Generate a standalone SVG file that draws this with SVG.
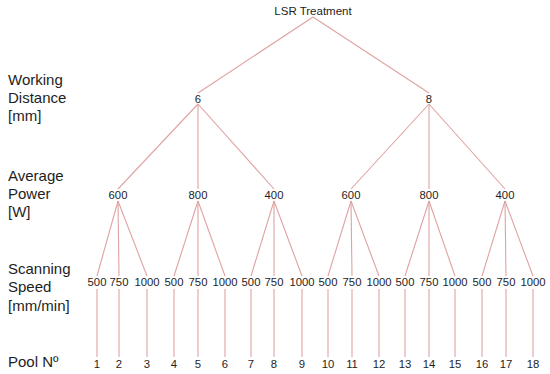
<svg xmlns="http://www.w3.org/2000/svg" width="550" height="374" viewBox="0 0 550 374">
<style>
.bg{fill:#ffffff}
.c line{stroke:#e0a2a2;stroke-width:1.1;fill:none}
text{font-family:"Liberation Sans",Arial,sans-serif;fill:#1e1e1e}
.n{font-size:11.3px;text-anchor:middle;dominant-baseline:central}
.r{font-size:11.5px}
.lab{font-size:15px}
</style>
<rect class="bg" x="0" y="0" width="550" height="374"/>
<g id="connectors" class="c">
<line x1="313" y1="17" x2="198" y2="93"/>
<line x1="313" y1="17" x2="429" y2="93"/>
<line x1="198" y1="104" x2="118" y2="189"/>
<line x1="198" y1="104" x2="198" y2="189"/>
<line x1="198" y1="104" x2="274" y2="189"/>
<line x1="429" y1="104" x2="351" y2="189"/>
<line x1="429" y1="104" x2="429" y2="189"/>
<line x1="429" y1="104" x2="505" y2="189"/>
<line x1="118" y1="201" x2="97" y2="276"/>
<line x1="118" y1="201" x2="119" y2="276"/>
<line x1="118" y1="201" x2="147" y2="276"/>
<line x1="198" y1="201" x2="174" y2="276"/>
<line x1="198" y1="201" x2="198" y2="276"/>
<line x1="198" y1="201" x2="225" y2="276"/>
<line x1="274" y1="201" x2="251" y2="276"/>
<line x1="274" y1="201" x2="274" y2="276"/>
<line x1="274" y1="201" x2="302" y2="276"/>
<line x1="351" y1="201" x2="328" y2="276"/>
<line x1="351" y1="201" x2="352" y2="276"/>
<line x1="351" y1="201" x2="379" y2="276"/>
<line x1="429" y1="201" x2="405" y2="276"/>
<line x1="429" y1="201" x2="429" y2="276"/>
<line x1="429" y1="201" x2="455" y2="276"/>
<line x1="505" y1="201" x2="482" y2="276"/>
<line x1="505" y1="201" x2="506" y2="276"/>
<line x1="505" y1="201" x2="533" y2="276"/>
<line x1="97" y1="289" x2="97" y2="357"/>
<line x1="119" y1="289" x2="119" y2="357"/>
<line x1="147" y1="289" x2="147" y2="357"/>
<line x1="174" y1="289" x2="174" y2="357"/>
<line x1="198" y1="289" x2="198" y2="357"/>
<line x1="225" y1="289" x2="225" y2="357"/>
<line x1="251" y1="289" x2="251" y2="357"/>
<line x1="274" y1="289" x2="274" y2="357"/>
<line x1="302" y1="289" x2="302" y2="357"/>
<line x1="328" y1="289" x2="328" y2="357"/>
<line x1="352" y1="289" x2="352" y2="357"/>
<line x1="379" y1="289" x2="379" y2="357"/>
<line x1="405" y1="289" x2="405" y2="357"/>
<line x1="429" y1="289" x2="429" y2="357"/>
<line x1="455" y1="289" x2="455" y2="357"/>
<line x1="482" y1="289" x2="482" y2="357"/>
<line x1="506" y1="289" x2="506" y2="357"/>
<line x1="533" y1="289" x2="533" y2="357"/>
</g>
<g id="level-labels">
<text class="lab" x="8" y="85">Working</text>
<text class="lab" x="8" y="103">Distance</text>
<text class="lab" x="8" y="121">[mm]</text>
<text class="lab" x="8" y="181">Average</text>
<text class="lab" x="8" y="199">Power</text>
<text class="lab" x="8" y="217">[W]</text>
<text class="lab" x="8" y="274">Scanning</text>
<text class="lab" x="8" y="292">Speed</text>
<text class="lab" x="8" y="311">[mm/min]</text>
<text class="lab" x="8" y="367">Pool Nº</text>
</g>
<g id="root"><text class="n r" x="313" y="11">LSR Treatment</text></g>
<g id="wd-6"><text class="n" x="198" y="99">6</text></g>
<g id="wd-8"><text class="n" x="429" y="99">8</text></g>
<g id="p-6-600"><text class="n" x="118" y="195">600</text></g>
<g id="p-6-800"><text class="n" x="198" y="195">800</text></g>
<g id="p-6-400"><text class="n" x="274" y="195">400</text></g>
<g id="p-8-600"><text class="n" x="351" y="195">600</text></g>
<g id="p-8-800"><text class="n" x="429" y="195">800</text></g>
<g id="p-8-400"><text class="n" x="505" y="195">400</text></g>
<g id="s1"><text class="n" x="97" y="282">500</text></g>
<g id="s2"><text class="n" x="119" y="282">750</text></g>
<g id="s3"><text class="n" x="147" y="282">1000</text></g>
<g id="s4"><text class="n" x="174" y="282">500</text></g>
<g id="s5"><text class="n" x="198" y="282">750</text></g>
<g id="s6"><text class="n" x="225" y="282">1000</text></g>
<g id="s7"><text class="n" x="251" y="282">500</text></g>
<g id="s8"><text class="n" x="274" y="282">750</text></g>
<g id="s9"><text class="n" x="302" y="282">1000</text></g>
<g id="s10"><text class="n" x="328" y="282">500</text></g>
<g id="s11"><text class="n" x="352" y="282">750</text></g>
<g id="s12"><text class="n" x="379" y="282">1000</text></g>
<g id="s13"><text class="n" x="405" y="282">500</text></g>
<g id="s14"><text class="n" x="429" y="282">750</text></g>
<g id="s15"><text class="n" x="455" y="282">1000</text></g>
<g id="s16"><text class="n" x="482" y="282">500</text></g>
<g id="s17"><text class="n" x="506" y="282">750</text></g>
<g id="s18"><text class="n" x="533" y="282">1000</text></g>
<g id="pool1"><text class="n" x="97" y="364">1</text></g>
<g id="pool2"><text class="n" x="119" y="364">2</text></g>
<g id="pool3"><text class="n" x="147" y="364">3</text></g>
<g id="pool4"><text class="n" x="174" y="364">4</text></g>
<g id="pool5"><text class="n" x="198" y="364">5</text></g>
<g id="pool6"><text class="n" x="225" y="364">6</text></g>
<g id="pool7"><text class="n" x="251" y="364">7</text></g>
<g id="pool8"><text class="n" x="274" y="364">8</text></g>
<g id="pool9"><text class="n" x="302" y="364">9</text></g>
<g id="pool10"><text class="n" x="328" y="364">10</text></g>
<g id="pool11"><text class="n" x="352" y="364">11</text></g>
<g id="pool12"><text class="n" x="379" y="364">12</text></g>
<g id="pool13"><text class="n" x="405" y="364">13</text></g>
<g id="pool14"><text class="n" x="429" y="364">14</text></g>
<g id="pool15"><text class="n" x="455" y="364">15</text></g>
<g id="pool16"><text class="n" x="482" y="364">16</text></g>
<g id="pool17"><text class="n" x="506" y="364">17</text></g>
<g id="pool18"><text class="n" x="533" y="364">18</text></g>
</svg>
